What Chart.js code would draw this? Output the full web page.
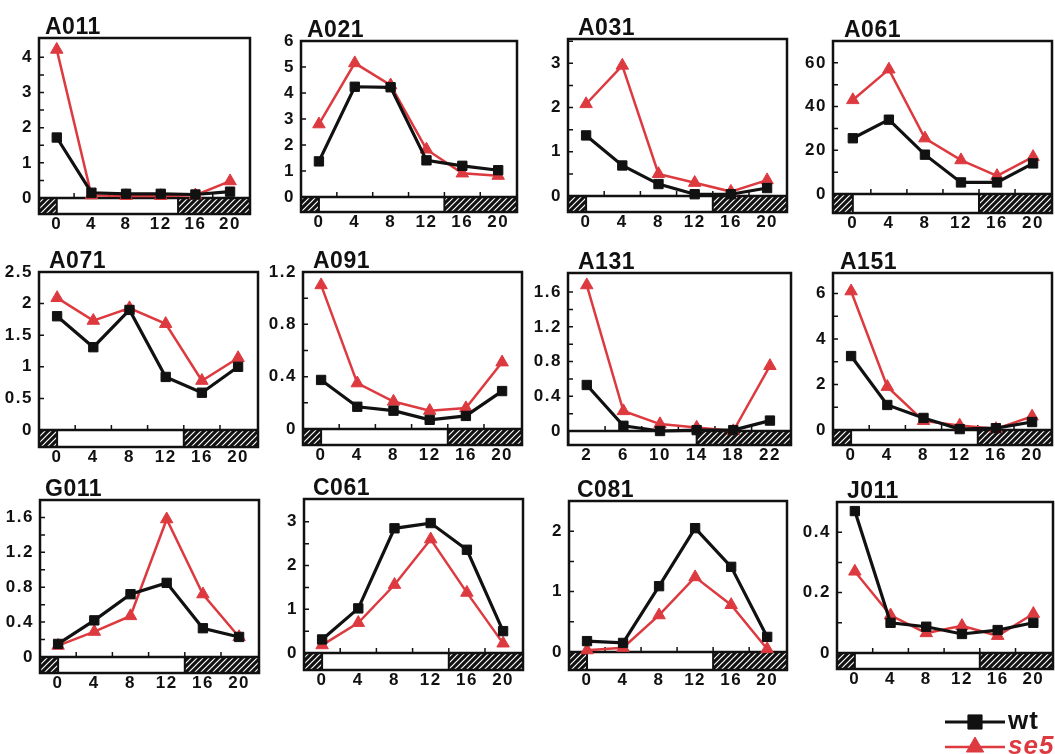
<!DOCTYPE html>
<html><head><meta charset="utf-8">
<script src="https://cdn.jsdelivr.net/npm/chart.js@4.4.1/dist/chart.umd.min.js"></script>
<style>
html,body{margin:0;padding:0;background:#fff;overflow:hidden;width:1055px;height:754px;position:relative;}
canvas{position:absolute;}
</style></head><body>
<script>
// ---------- data ----------
const hours = [0, 4, 8, 12, 16, 20];
const hoursA131 = [2, 6, 10, 14, 18, 22];
const xTickLabels = [0, 4, 8, 12, 16, 20];
const xTickLabelsA131 = [2, 6, 10, 14, 18, 22];
const darkPeriods = [[-4, 0], [14, 26]];
const seriesNames = ['wt', 'se5'];

const A011_wt  = [1.72, 0.15, 0.12, 0.12, 0.10, 0.18];
const A011_se5 = [4.22, 0.08, 0.06, 0.06, 0.08, 0.48];
const A021_wt  = [1.37, 4.24, 4.22, 1.41, 1.20, 1.03];
const A021_se5 = [2.80, 5.15, 4.30, 1.83, 0.91, 0.82];
const A031_wt  = [1.37, 0.69, 0.27, 0.04, 0.04, 0.18];
const A031_se5 = [2.08, 2.95, 0.50, 0.30, 0.10, 0.36];
const A061_wt  = [25.5, 34, 18, 5.3, 5.3, 14];
const A061_se5 = [43, 57, 25.5, 15.5, 8.3, 17];
const A071_wt  = [1.80, 1.31, 1.90, 0.84, 0.59, 1.00];
const A071_se5 = [2.09, 1.73, 1.93, 1.68, 0.78, 1.14];
const A091_wt  = [0.375, 0.17, 0.14, 0.07, 0.10, 0.29];
const A091_se5 = [1.10, 0.35, 0.21, 0.14, 0.16, 0.51];
const A131_wt  = [0.53, 0.06, 0.00, 0.01, 0.01, 0.12];
const A131_se5 = [1.68, 0.23, 0.08, 0.04, 0.00, 0.75];
const A151_wt  = [3.25, 1.10, 0.53, 0.04, 0.08, 0.35];
const A151_se5 = [6.10, 1.90, 0.40, 0.20, 0.05, 0.60];
const G011_wt  = [0.15, 0.42, 0.72, 0.85, 0.33, 0.23];
const G011_se5 = [0.13, 0.29, 0.47, 1.58, 0.72, 0.23];
const C061_wt  = [0.31, 1.02, 2.85, 2.97, 2.36, 0.50];
const C061_se5 = [0.18, 0.69, 1.56, 2.60, 1.38, 0.22];
const C081_wt  = [0.18, 0.15, 1.09, 2.05, 1.41, 0.25];
const C081_se5 = [0.03, 0.07, 0.61, 1.24, 0.78, 0.05];
const J011_wt  = [0.47, 0.10, 0.087, 0.063, 0.076, 0.10];
const J011_se5 = [0.27, 0.125, 0.066, 0.09, 0.057, 0.13];

const A011_yTicks = [0, 1, 2, 3, 4];
const A021_yTicks = [0, 1, 2, 3, 4, 5, 6];
const A031_yTicks = [0, 1, 2, 3];
const A061_yTicks = [0, 20, 40, 60];
const A071_yTicks = [0, 0.5, 1, 1.5, 2, 2.5];
const A091_yTicks = [0, 0.4, 0.8, 1.2];
const A131_yTicks = [0, 0.4, 0.8, 1.2, 1.6];
const A151_yTicks = [0, 2, 4, 6];
const G011_yTicks = [0, 0.4, 0.8, 1.2, 1.6];
const C061_yTicks = [0, 1, 2, 3];
const C081_yTicks = [0, 1, 2];
const J011_yTicks = [0, 0.2, 0.4];

// ---------- layout / styling ----------
const BLACK = '#111111';
const RED = '#dd3a40';
const FONT = '"Liberation Sans", Arial, Helvetica, sans-serif';

// box: [left, top, right, zeroLineY, barBottom]
const panels = [
  {title:'A011', x:hours, xt:xTickLabels, wt:A011_wt, se5:A011_se5, yt:A011_yTicks, ymax:4.55, minor:0.5, xmin:-2.05, xmax:22.3, box:[39,38,250,198,214], tdx:6},
  {title:'A021', x:hours, xt:xTickLabels, wt:A021_wt, se5:A021_se5, yt:A021_yTicks, ymax:6.0, minor:1, xmin:-2.0, xmax:22.1, box:[301,41,517,197,212], tdx:6},
  {title:'A031', x:hours, xt:xTickLabels, wt:A031_wt, se5:A031_se5, yt:A031_yTicks, ymax:3.55, minor:0.5, xmin:-2.0, xmax:22.2, box:[568,39,787,196,212], tdx:10},
  {title:'A061', x:hours, xt:xTickLabels, wt:A061_wt, se5:A061_se5, yt:A061_yTicks, ymax:70, minor:10, xmin:-2.2, xmax:22.1, box:[833,41,1052,194,213], tdx:11},
  {title:'A071', x:hours, xt:xTickLabels, wt:A071_wt, se5:A071_se5, yt:A071_yTicks, ymax:2.5, minor:0.5, xmin:-2.0, xmax:22.2, box:[39,272,258,430,447], tdx:10},
  {title:'A091', x:hours, xt:xTickLabels, wt:A091_wt, se5:A091_se5, yt:A091_yTicks, ymax:1.2, minor:0.2, xmin:-2.0, xmax:22.2, box:[303,272,522,429,445], tdx:10},
  {title:'A131', x:hoursA131, xt:xTickLabelsA131, wt:A131_wt, se5:A131_se5, yt:A131_yTicks, ymax:1.82, minor:0.2, xmin:-0.05, xmax:24.3, box:[568,273,791,431,445], tdx:10},
  {title:'A151', x:hours, xt:xTickLabels, wt:A151_wt, se5:A151_se5, yt:A151_yTicks, ymax:6.9, minor:1, xmin:-2.0, xmax:22.2, box:[833,273,1052,430,445], tdx:7},
  {title:'G011', x:hours, xt:xTickLabels, wt:G011_wt, se5:G011_se5, yt:G011_yTicks, ymax:1.8, minor:0.2, xmin:-2.0, xmax:22.2, box:[40,500,259,657,673], tdx:5},
  {title:'C061', x:hours, xt:xTickLabels, wt:C061_wt, se5:C061_se5, yt:C061_yTicks, ymax:3.52, minor:0.5, xmin:-2.0, xmax:22.2, box:[304,499,523,653,670], tdx:9},
  {title:'C081', x:hours, xt:xTickLabels, wt:C081_wt, se5:C081_se5, yt:C081_yTicks, ymax:2.5, minor:0.5, xmin:-2.0, xmax:22.2, box:[569,501,787,652,670], tdx:8},
  {title:'J011', x:hours, xt:xTickLabels, wt:J011_wt, se5:J011_se5, yt:J011_yTicks, ymax:0.5, minor:0.1, xmin:-2.0, xmax:22.2, box:[837,502,1053,653,669], tdx:10}
];

// hatch pattern for dark periods
const hatch = (() => {
  const c = document.createElement('canvas');
  c.width = 6; c.height = 6;
  const g = c.getContext('2d');
  g.fillStyle = BLACK; g.fillRect(0, 0, 6, 6);
  g.strokeStyle = '#ffffff'; g.lineWidth = 1.2;
  g.beginPath();
  g.moveTo(-1, 7); g.lineTo(7, -1);
  g.moveTo(-1, 1); g.lineTo(1, -1);
  g.moveTo(5, 7); g.lineTo(7, 5);
  g.stroke();
  return c;
})();

const panelPlugin = {
  id: 'panelDecor',
  beforeDraw(chart) {
    chart.ctx.letterSpacing = '1.5px';
  },
  beforeDatasetsDraw(chart, args, opts) {
    const {ctx, chartArea: a, scales: {x, y}} = chart;
    const barH = opts.barH;
    const barB = a.bottom + barH;
    ctx.save();
    ctx.letterSpacing = '0px';
    // light/dark bar
    ctx.fillStyle = '#ffffff';
    ctx.fillRect(a.left, a.bottom, a.right - a.left, barH);
    const pat = ctx.createPattern(hatch, 'repeat');
    ctx.strokeStyle = BLACK;
    for (const [s, e] of opts.dark) {
      const x0 = Math.max(a.left, x.getPixelForValue(s));
      const x1 = Math.min(a.right, x.getPixelForValue(e));
      if (x1 > x0) {
        ctx.fillStyle = pat;
        ctx.fillRect(x0, a.bottom, x1 - x0, barH);
        ctx.lineWidth = 2;
        ctx.strokeRect(x0, a.bottom, x1 - x0, barH);
      }
    }
    ctx.lineWidth = 2.5;
    ctx.beginPath();
    ctx.moveTo(a.left, a.bottom); ctx.lineTo(a.right, a.bottom);
    ctx.stroke();
    ctx.strokeRect(a.left, a.top, a.right - a.left, barB - a.top);
    // y ticks (major + minor), pointing inward
    ctx.lineWidth = 1.5;
    ctx.beginPath();
    const n = Math.round(y.max / opts.minor);
    for (let i = 1; i <= n; i++) {
      const py = y.getPixelForValue(i * opts.minor);
      if (py < a.top + 2) continue;
      ctx.moveTo(a.left, py); ctx.lineTo(a.left + 5, py);
    }
    // x ticks between labels, pointing up from the bar
    const xt = opts.xt;
    for (let i = 0; i < xt.length - 1; i++) {
      const px = x.getPixelForValue((xt[i] + xt[i + 1]) / 2);
      ctx.moveTo(px, a.bottom); ctx.lineTo(px, a.bottom - 5);
    }
    ctx.stroke();
    // panel title
    ctx.font = 'bold 23px ' + FONT;
    ctx.letterSpacing = '0.5px';
    ctx.fillStyle = BLACK;
    ctx.textAlign = 'left';
    ctx.textBaseline = 'alphabetic';
    ctx.fillText(opts.title, a.left + opts.tdx, a.top - 4);
    ctx.restore();
  }
};

const PAD_TOP = 42, Y_W = 45, PAD_R = 3, BELOW = 24;

panels.forEach(p => {
  const [bl, bt, br, bz, bb] = p.box;
  const W = br - bl + Y_W + PAD_R;
  const H = bb - bt + PAD_TOP + BELOW;
  const cv = document.createElement('canvas');
  cv.width = W; cv.height = H;
  cv.style.width = W + 'px'; cv.style.height = H + 'px';
  cv.style.left = (bl - Y_W) + 'px';
  cv.style.top = (bt - PAD_TOP) + 'px';
  document.body.appendChild(cv);
  const barH = bb - bz;
  const tickFont = {family: FONT, weight: 'bold', size: 17};
  new Chart(cv, {
    type: 'line',
    data: {
      datasets: [
        {label: seriesNames[0], data: p.x.map((h, i) => ({x: h, y: p.wt[i]})),
         borderColor: BLACK, backgroundColor: BLACK, borderWidth: 3.2,
         pointStyle: 'rect', pointRadius: 6.6, pointBorderWidth: 1, clip: false, tension: 0},
        {label: seriesNames[1], data: p.x.map((h, i) => ({x: h, y: p.se5[i]})),
         borderColor: RED, backgroundColor: RED, borderWidth: 2.5,
         pointStyle: 'triangle', pointRadius: 7.2, pointBorderWidth: 1, clip: false, tension: 0}
      ]
    },
    options: {
      responsive: false,
      devicePixelRatio: 1,
      animation: false,
      events: [],
      layout: {autoPadding: false, padding: {top: PAD_TOP, left: 0, right: PAD_R, bottom: 0}},
      plugins: {
        legend: {display: false},
        tooltip: {enabled: false},
        title: {display: false},
        panelDecor: {barH: barH, dark: darkPeriods, minor: p.minor, xt: p.xt, title: p.title, tdx: p.tdx}
      },
      scales: {
        x: {
          type: 'linear', min: p.xmin, max: p.xmax,
          grid: {display: false, drawTicks: true, tickLength: barH},
          border: {display: false},
          ticks: {font: tickFont, color: BLACK, padding: 0, maxRotation: 0, autoSkip: false, callback: v => String(v)},
          afterBuildTicks: s => { s.ticks = p.xt.map(v => ({value: v})); },
          afterFit: s => { s.height = barH + BELOW; }
        },
        y: {
          type: 'linear', min: 0, max: p.ymax,
          grid: {display: false, drawTicks: false},
          border: {display: false},
          ticks: {font: tickFont, color: BLACK, padding: 6, autoSkip: false, callback: v => String(v)},
          afterBuildTicks: s => { s.ticks = p.yt.map(v => ({value: v})); },
          afterFit: s => { s.width = Y_W; }
        }
      }
    },
    plugins: [panelPlugin]
  });
});

// ---------- legend ----------
const legendPlugin = {
  id: 'customLegend',
  afterDraw(chart) {
    const ctx = chart.ctx;
    const items = chart.data.datasets;
    ctx.save();
    items.forEach((ds, i) => {
      const yy = 22 + i * 25;
      ctx.strokeStyle = ds.borderColor;
      ctx.fillStyle = ds.backgroundColor;
      ctx.lineWidth = ds.borderWidth;
      ctx.beginPath();
      ctx.moveTo(15, yy); ctx.lineTo(75, yy);
      ctx.stroke();
      ctx.lineWidth = 1;
      Chart.helpers.drawPoint(ctx, {pointStyle: ds.pointStyle, radius: ds.pointRadius, rotation: 0, borderWidth: 1}, 45, yy);
      ctx.font = (i === 1 ? 'italic ' : '') + 'bold 26px ' + FONT;
      ctx.letterSpacing = '1px';
      ctx.textAlign = 'left';
      ctx.textBaseline = 'middle';
      ctx.fillText(ds.label, 78, yy);
    });
    ctx.restore();
  }
};
(() => {
  const cv = document.createElement('canvas');
  cv.width = 125; cv.height = 54;
  cv.style.width = '125px'; cv.style.height = '54px';
  cv.style.left = '930px'; cv.style.top = '700px';
  document.body.appendChild(cv);
  new Chart(cv, {
    type: 'line',
    data: {datasets: [
      {label: seriesNames[0], data: [], borderColor: BLACK, backgroundColor: BLACK, borderWidth: 3, pointStyle: 'rect', pointRadius: 10},
      {label: seriesNames[1], data: [], borderColor: RED, backgroundColor: RED, borderWidth: 2.4, pointStyle: 'triangle', pointRadius: 10}
    ]},
    options: {
      responsive: false, devicePixelRatio: 1, animation: false, events: [],
      plugins: {legend: {display: false}, tooltip: {enabled: false}},
      scales: {x: {display: false}, y: {display: false}}
    },
    plugins: [legendPlugin]
  });
})();
</script>
</body></html>
